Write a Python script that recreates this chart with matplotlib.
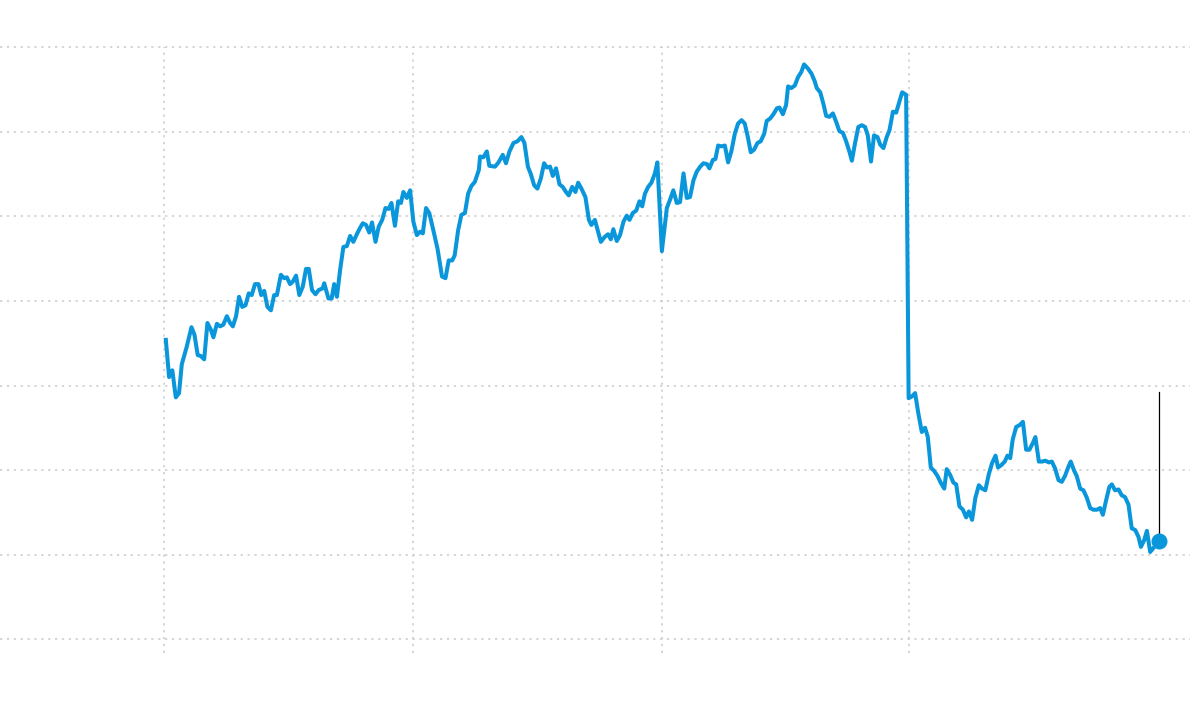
import matplotlib
matplotlib.use('Agg')
import matplotlib.pyplot as plt

# weekly-ish series, x in years from first gridline, y in grid units
years = [0.007, 0.020, 0.033, 0.047, 0.060, 0.071, 0.091, 0.110, 0.122, 0.135,
         0.147, 0.161, 0.174, 0.188, 0.198, 0.212, 0.225, 0.238, 0.252, 0.265,
         0.276, 0.289, 0.301, 0.314, 0.327, 0.340, 0.352, 0.365, 0.379, 0.390,
         0.402, 0.415, 0.429, 0.442, 0.453, 0.469, 0.482, 0.493, 0.506, 0.517,
         0.530, 0.543, 0.557, 0.570, 0.581, 0.594, 0.608, 0.621, 0.637, 0.643,
         0.660, 0.673, 0.683, 0.694, 0.707, 0.720, 0.734, 0.747, 0.760, 0.774,
         0.786, 0.798, 0.811, 0.824, 0.835, 0.849, 0.862, 0.876, 0.889, 0.902,
         0.913, 0.927, 0.940, 0.951, 0.961, 0.975, 0.988, 1.001, 1.015, 1.028,
         1.039, 1.052, 1.065, 1.081, 1.098, 1.116, 1.130, 1.143, 1.157, 1.167,
         1.181, 1.194, 1.208, 1.221, 1.234, 1.248, 1.264, 1.269, 1.282, 1.296,
         1.306, 1.329, 1.343, 1.360, 1.373, 1.387, 1.403, 1.419, 1.435, 1.447,
         1.461, 1.473, 1.486, 1.499, 1.513, 1.526, 1.537, 1.550, 1.561, 1.574,
         1.588, 1.601, 1.614, 1.625, 1.639, 1.652, 1.663, 1.676, 1.692, 1.706,
         1.716, 1.730, 1.743, 1.754, 1.770, 1.783, 1.794, 1.804, 1.818, 1.831,
         1.845, 1.858, 1.869, 1.882, 1.896, 1.909, 1.920, 1.931, 1.944, 1.957,
         1.971, 1.981, 1.999, 2.019, 2.032, 2.045, 2.059, 2.072, 2.086, 2.099,
         2.112, 2.126, 2.139, 2.153, 2.166, 2.180, 2.190, 2.204, 2.214, 2.225,
         2.238, 2.252, 2.265, 2.278, 2.292, 2.305, 2.319, 2.332, 2.345, 2.356,
         2.369, 2.383, 2.396, 2.410, 2.420, 2.434, 2.447, 2.461, 2.471, 2.485,
         2.498, 2.506, 2.519, 2.533, 2.546, 2.559, 2.570, 2.586, 2.600, 2.613,
         2.621, 2.635, 2.648, 2.659, 2.672, 2.686, 2.699, 2.712, 2.726, 2.739,
         2.752, 2.762, 2.775, 2.788, 2.802, 2.815, 2.826, 2.839, 2.851, 2.865,
         2.876, 2.889, 2.902, 2.913, 2.927, 2.940, 2.953, 2.964, 2.980, 2.990,
         3.003, 3.016, 3.029, 3.043, 3.056, 3.067, 3.079, 3.092, 3.106, 3.119,
         3.133, 3.143, 3.157, 3.170, 3.181, 3.194, 3.208, 3.221, 3.232, 3.245,
         3.258, 3.272, 3.285, 3.298, 3.312, 3.325, 3.339, 3.349, 3.363, 3.376,
         3.387, 3.398, 3.408, 3.422, 3.435, 3.449, 3.462, 3.475, 3.489, 3.499,
         3.513, 3.526, 3.539, 3.553, 3.565, 3.578, 3.592, 3.605, 3.618, 3.632,
         3.641, 3.655, 3.665, 3.679, 3.692, 3.706, 3.719, 3.732, 3.746, 3.759,
         3.770, 3.783, 3.796, 3.806, 3.819, 3.833, 3.846, 3.859, 3.873, 3.886,
         3.900, 3.913, 3.923, 3.936, 3.947, 3.960, 3.971]

values = [3.54, 3.10, 3.18, 2.86, 2.91, 3.25, 3.46, 3.69, 3.60, 3.36,
          3.35, 3.31, 3.74, 3.66, 3.57, 3.73, 3.70, 3.72, 3.82, 3.74,
          3.70, 3.82, 4.05, 3.93, 3.95, 4.09, 4.07, 4.20, 4.20, 4.07,
          4.12, 3.93, 3.89, 4.07, 4.07, 4.31, 4.27, 4.28, 4.20, 4.23,
          4.30, 4.07, 4.17, 4.38, 4.38, 4.13, 4.08, 4.13, 4.15, 4.21,
          4.03, 4.03, 4.20, 4.05, 4.37, 4.64, 4.65, 4.77, 4.70, 4.79,
          4.86, 4.92, 4.90, 4.81, 4.93, 4.70, 4.88, 4.96, 5.10, 5.09,
          5.16, 4.89, 5.18, 5.16, 5.29, 5.22, 5.31, 4.94, 4.78, 4.82,
          4.80, 5.10, 5.04, 4.84, 4.62, 4.29, 4.27, 4.48, 4.48, 4.54,
          4.84, 5.02, 5.04, 5.27, 5.36, 5.41, 5.55, 5.71, 5.70, 5.77,
          5.60, 5.59, 5.64, 5.73, 5.63, 5.77, 5.87, 5.89, 5.94, 5.87,
          5.59, 5.50, 5.37, 5.33, 5.45, 5.63, 5.58, 5.59, 5.48, 5.57,
          5.38, 5.35, 5.29, 5.25, 5.35, 5.29, 5.40, 5.33, 5.23, 4.96,
          4.90, 4.96, 4.82, 4.70, 4.76, 4.79, 4.73, 4.85, 4.71, 4.78,
          4.94, 5.01, 4.96, 5.04, 5.07, 5.18, 5.12, 5.27, 5.35, 5.40,
          5.51, 5.64, 4.59, 5.10, 5.20, 5.31, 5.16, 5.17, 5.51, 5.22,
          5.23, 5.43, 5.53, 5.59, 5.63, 5.62, 5.57, 5.67, 5.68, 5.84,
          5.83, 5.84, 5.64, 5.77, 5.98, 6.10, 6.14, 6.10, 5.93, 5.76,
          5.79, 5.87, 5.89, 5.98, 6.13, 6.16, 6.21, 6.28, 6.29, 6.21,
          6.32, 6.54, 6.52, 6.55, 6.65, 6.71, 6.80, 6.75, 6.69, 6.60,
          6.52, 6.47, 6.33, 6.19, 6.18, 6.22, 6.12, 6.01, 5.99, 5.89,
          5.77, 5.66, 5.87, 6.06, 6.08, 6.06, 5.96, 5.65, 5.96, 5.94,
          5.85, 5.81, 5.94, 6.02, 6.24, 6.23, 6.36, 6.47, 6.44, 2.85,
          2.87, 2.91, 2.67, 2.45, 2.50, 2.39, 2.03, 1.99, 1.93, 1.85,
          1.78, 2.01, 1.94, 1.85, 1.83, 1.57, 1.53, 1.44, 1.51, 1.41,
          1.67, 1.82, 1.78, 1.76, 1.95, 2.08, 2.17, 2.03, 2.06, 2.10,
          2.17, 2.14, 2.36, 2.51, 2.53, 2.57, 2.24, 2.24, 2.32, 2.39,
          2.10, 2.10, 2.11, 2.09, 2.10, 2.02, 1.88, 1.86, 1.93, 2.04,
          2.10, 1.99, 1.93, 1.78, 1.76, 1.67, 1.55, 1.53, 1.53, 1.55,
          1.47, 1.64, 1.80, 1.83, 1.76, 1.77, 1.70, 1.68, 1.59, 1.31,
          1.29, 1.21, 1.09, 1.17, 1.28, 1.03, 1.07]

last_year = 3.996
last_value = 1.16
leader_top = 2.92

y_grid = [0, 1, 2, 3, 4, 5, 6, 7]
x_grid = [0, 1, 2, 2.99]

BLUE = '#0a96da'
GRID = '#cccccc'

fig = plt.figure(figsize=(11.9, 7.04), dpi=100)
ax = fig.add_axes([0, 0, 1, 1])
ax.set_xlim(-0.659, 4.120)
ax.set_ylim(-0.769, 7.562)
ax.axis('off')

for y in y_grid:
    ax.axhline(y, color=GRID, lw=1.1, ls=(0, (1.5, 3)), zorder=1)
ax.vlines(x_grid, -0.17, 7, color=GRID, lw=1.1, ls=(0, (1.5, 3)), zorder=1)

ax.plot(years, values, color=BLUE, lw=2.9, solid_joinstyle='round', zorder=3)

ax.plot([last_year, last_year], [last_value, leader_top], color='black', lw=0.9, zorder=2)
ax.plot(last_year, last_value, 'o', color=BLUE, ms=10.5, zorder=4)

fig.savefig('out.png', dpi=100)
